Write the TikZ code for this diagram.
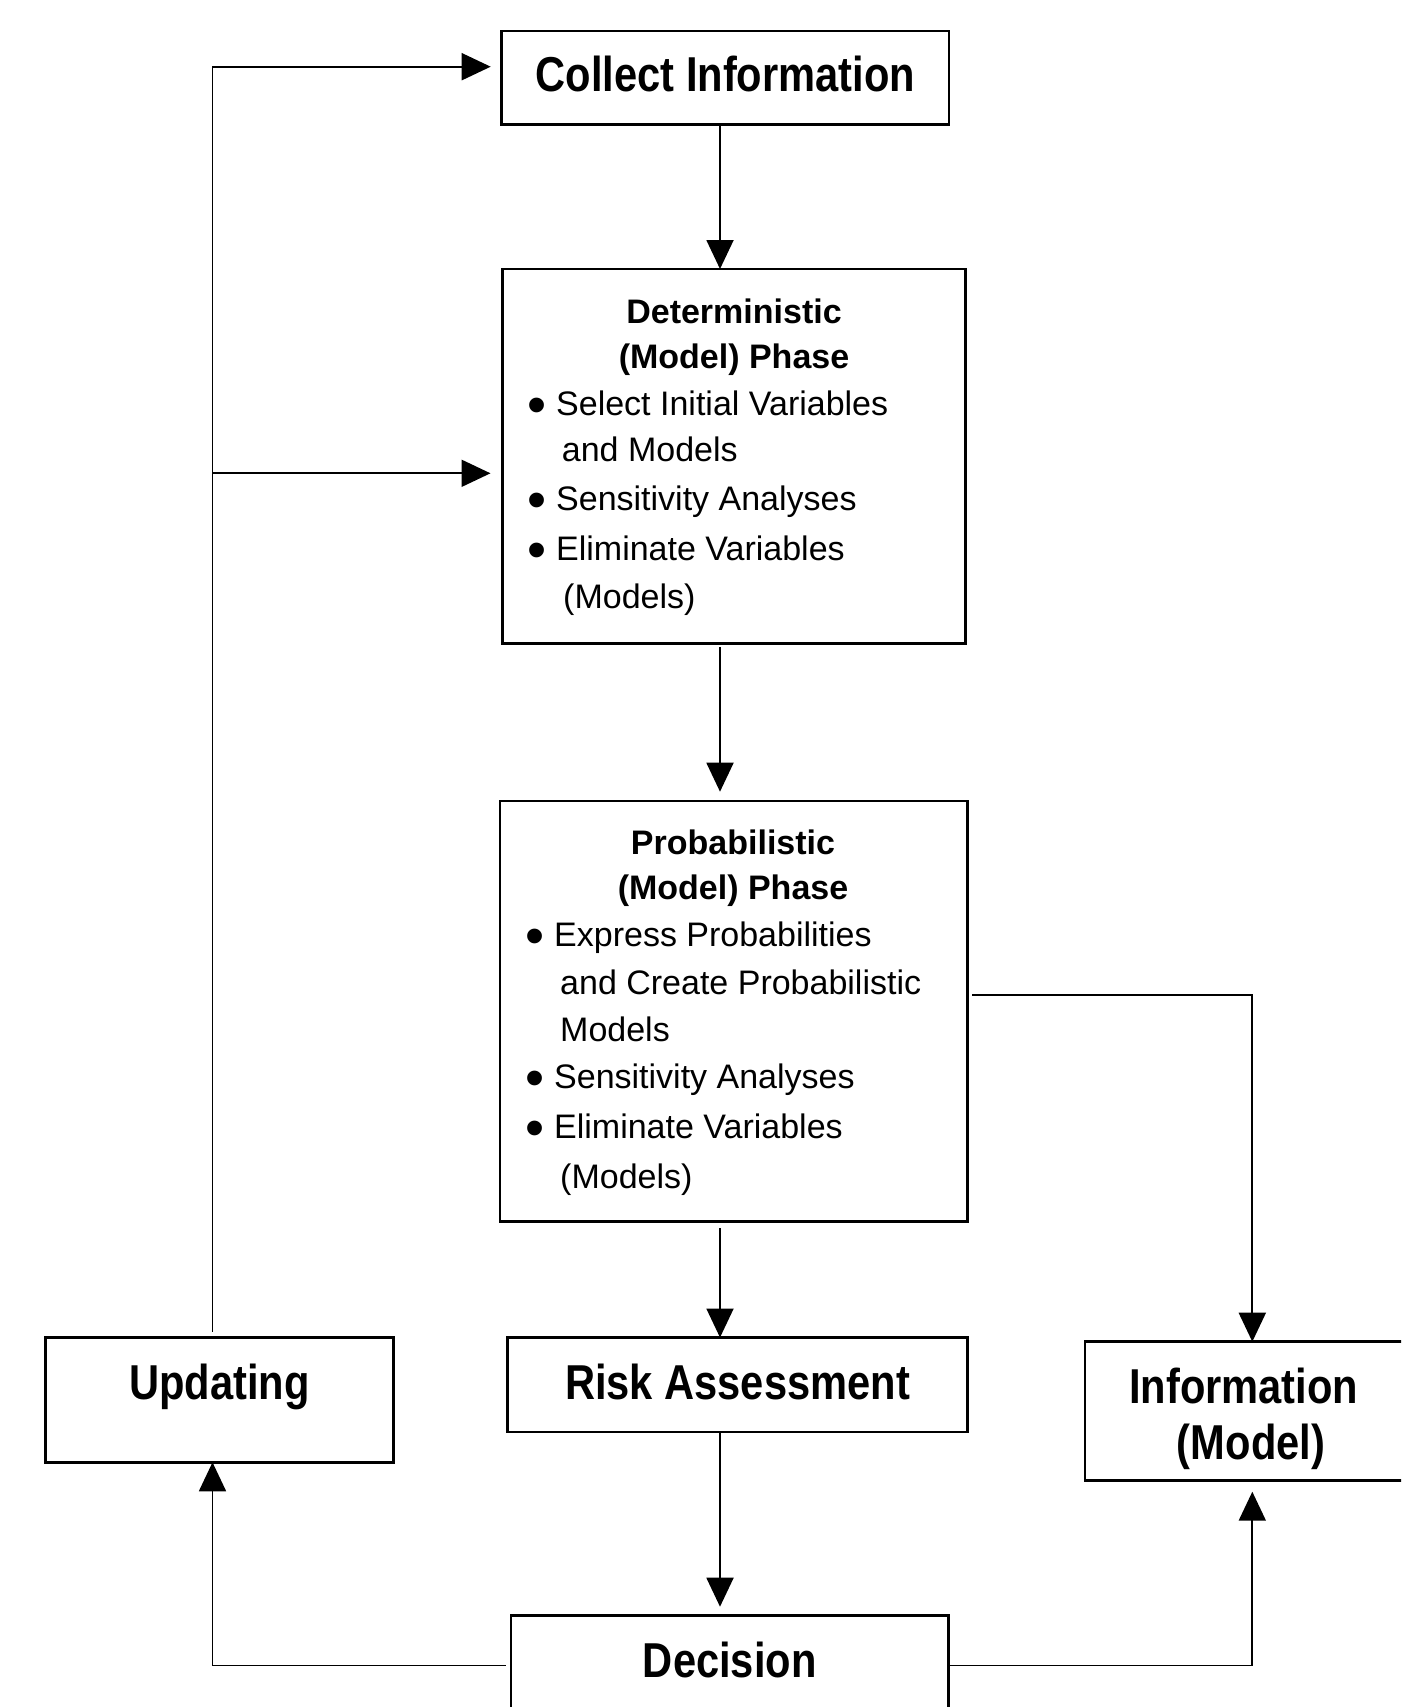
\documentclass[tikz,border=0pt]{standalone}
\usepackage{fontspec}
\usepackage{graphicx}
\setmainfont{Liberation Sans}
\newfontfamily\condfont[FakeStretch=0.85]{Liberation Sans}
\usetikzlibrary{arrows.meta}
\newcommand\bulitem{\raisebox{-8pt}{\scalebox{1.6}{•}} }
\begin{document}
\begin{tikzpicture}[x=1pt,y=-1pt,
  box/.style={draw, line width=2.6pt, inner sep=0pt, outer sep=0pt, anchor=north west, align=center},
  big/.style={font=\condfont\bfseries\fontsize{49}{56}\selectfont},
  ttl/.style={font=\bfseries\fontsize{34}{40}\selectfont, inner sep=0pt, anchor=base},
  bigtxt/.style={font=\condfont\bfseries\fontsize{49}{56}\selectfont, inner sep=0pt, anchor=base},
  txt/.style={font=\fontsize{34}{40}\selectfont, inner sep=0pt, anchor=base west},
  arr/.style={line width=1.9pt, -{Triangle[length=29pt,width=27pt]}}]
\clip (0,0) rectangle (1401,1707);
\fill[white] (0,0) rectangle (1401,1707);

% boxes
\node[box, big, minimum width=447.3pt, text height=60.7pt, text depth=32.6pt] (ci) at (501.7,31) {Collect Information};
\node[box, minimum width=463.2pt, minimum height=374.5pt] (det) at (502.5,269) {};
\node[box, minimum width=467.7pt, minimum height=420.2pt] (prob) at (500,801) {};
\node[box, big, minimum width=460.4pt, text height=62pt, text depth=32.5pt] (risk) at (507.3,1337.5) {Risk Assessment};
\node[box, big, minimum width=437.5pt, text height=62pt, text depth=40pt] (dec) at (511,1615.7) {Decision};
\node[box, big, minimum width=347.6pt, text height=61.6pt, text depth=63pt] (upd) at (45.7,1337.7) {Updating};
\node[box, minimum width=318pt, minimum height=139pt] (info) at (1085,1341.7) {};

% deterministic box text
\node[ttl] (detA) at (734,323.3) {Deterministic};
\node[ttl] (detB) at (734,368.3) {(Model) Phase};
\node[txt] (detC) at (527.5,415) {\bulitem Select Initial Variables};
\node[txt] (detD) at (561.7,461.7) {and Models};
\node[txt] (detE) at (527.5,510) {\bulitem Sensitivity Analyses};
\node[txt] (detF) at (527.5,560) {\bulitem Eliminate Variables};
\node[txt] (detG) at (563,608.3) {(Models)};

% probabilistic box text
\node[ttl] (probA) at (733,854) {Probabilistic};
\node[ttl] (probB) at (733,899) {(Model) Phase};
\node[txt] (probC) at (525.5,946.7) {\bulitem Express Probabilities};
\node[txt] (probD) at (560,994) {and Create Probabilistic};
\node[txt] (probE) at (560,1041.7) {Models};
\node[txt] (probF) at (525.5,1088.3) {\bulitem Sensitivity Analyses};
\node[txt] (probG) at (525.5,1138.3) {\bulitem Eliminate Variables};
\node[txt] (probH) at (560,1188.3) {(Models)};

% information box text
\node[bigtxt] (infoA) at (1243.7,1403.3) {Information};
\node[bigtxt] (infoB) at (1251,1459.3) {(Model)};

% helper coordinates
\coordinate (spine) at (720,0);
\coordinate (lx) at (212.5,0);
\coordinate (rx) at (1252.3,0);
\coordinate (ty) at (0,66.7);
\coordinate (branch) at (212.5,473.3);
\coordinate (py) at (0,995);
\coordinate (dy) at (0,1665.5);

% connectors
\draw[arr] (ci.south -| spine) -- (det.north -| spine);
\draw[arr, shorten <=3.4pt, shorten >=9.3pt] (det.south -| spine) -- (prob.north -| spine);
\draw[arr, shorten <=7.1pt] (prob.south -| spine) -- (risk.north -| spine);
\draw[arr, shorten >=9pt] (risk.south -| spine) -- (dec.north -| spine);
\draw[arr, shorten <=4.3pt] (prob.east |- py) -- (rx |- py) -- (info.north -| rx);
\draw[arr, shorten <=5.3pt] (dec.west |- dy) -- (lx |- dy) -- (upd.south -| lx);
\draw[arr, shorten >=11pt] (dec.east |- dy) -- (rx |- dy) -- (info.south -| rx);
\draw[arr, shorten <=6pt, shorten >=11pt] (upd.north -| lx) -- (lx |- ty) -- (ci.west |- ty);
\draw[arr, shorten >=12pt] (branch) -- (det.west |- branch);
\end{tikzpicture}
\end{document}
